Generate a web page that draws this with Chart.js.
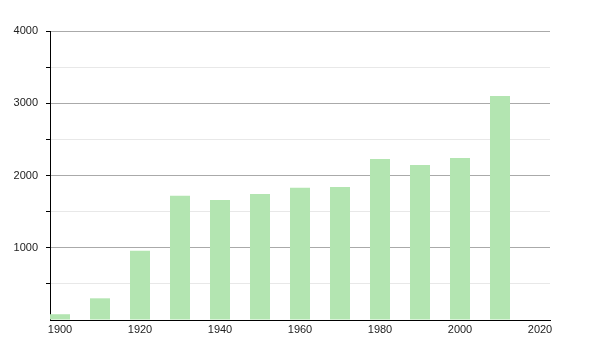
<!DOCTYPE html>
<html>
<head>
<meta charset="utf-8">
<script src="https://cdn.jsdelivr.net/npm/chart.js@4/dist/chart.umd.min.js"></script>
<style>
  html, body { margin: 0; padding: 0; background: #fff; }
  #wrap { width: 600px; height: 350px; }
</style>
</head>
<body>
<div id="wrap"><canvas id="chart"></canvas></div>
<script>
// Dados
const anos = [1900, 1910, 1920, 1930, 1940, 1950, 1960, 1970, 1980, 1990, 2000, 2010];
const populacao = [80, 300, 958, 1720, 1661, 1744, 1830, 1841, 2228, 2145, 2242, 3100];
const ticksX = [1900, 1920, 1940, 1960, 1980, 2000, 2020];

const pontos = anos.map((a, i) => ({ x: a, y: populacao[i] }));

const fonte = { family: '"Liberation Sans", Arial, sans-serif', size: 11 };

new Chart(document.getElementById('chart'), {
    type: 'bar',
    data: {
        datasets: [{
            data: pontos,
            backgroundColor: '#b3e5b1',
            borderWidth: 0,
            categoryPercentage: 1,
            barPercentage: 0.5
        }]
    },
    options: {
        responsive: true,
        maintainAspectRatio: false,
        animation: false,
        layout: { padding: { top: 31, right: 50, bottom: 0, left: 0 } },
        plugins: { legend: { display: false }, tooltip: { enabled: false } },
        scales: {
            x: {
                type: 'linear',
                offset: false,
                min: 1897.5,
                max: 2022.5,
                afterBuildTicks: scale => {
                    scale.ticks = ticksX.map(v => ({ value: v }));
                },
                afterFit: scale => { scale.height = 30; },
                grid: { display: false, drawTicks: false, offset: false },
                border: { display: true, color: '#000', width: 1 },
                ticks: {
                    color: '#222',
                    font: fonte,
                    padding: 3,
                    maxRotation: 0,
                    autoSkip: false,
                    callback: v => String(v)
                }
            },
            y: {
                min: 0,
                max: 4000,
                afterFit: scale => { scale.width = 50; },
                border: { display: true, color: '#000', width: 1 },
                grid: {
                    color: ctx => {
                        const v = ctx.tick ? ctx.tick.value : 0;
                        if (v === 0) return 'rgba(0,0,0,0)';
                        return v % 1000 === 0 ? '#aaaaaa' : '#e8e8e8';
                    },
                    tickColor: ctx => {
                        const v = ctx.tick ? ctx.tick.value : 0;
                        return v === 0 ? 'rgba(0,0,0,0)' : '#000';
                    },
                    tickLength: 4,
                    lineWidth: 1
                },
                ticks: {
                    stepSize: 500,
                    color: '#222',
                    font: fonte,
                    padding: 8,
                    callback: v => (v !== 0 && v % 1000 === 0) ? String(v) : ''
                }
            }
        }
    }
});
</script>
</body>
</html>
